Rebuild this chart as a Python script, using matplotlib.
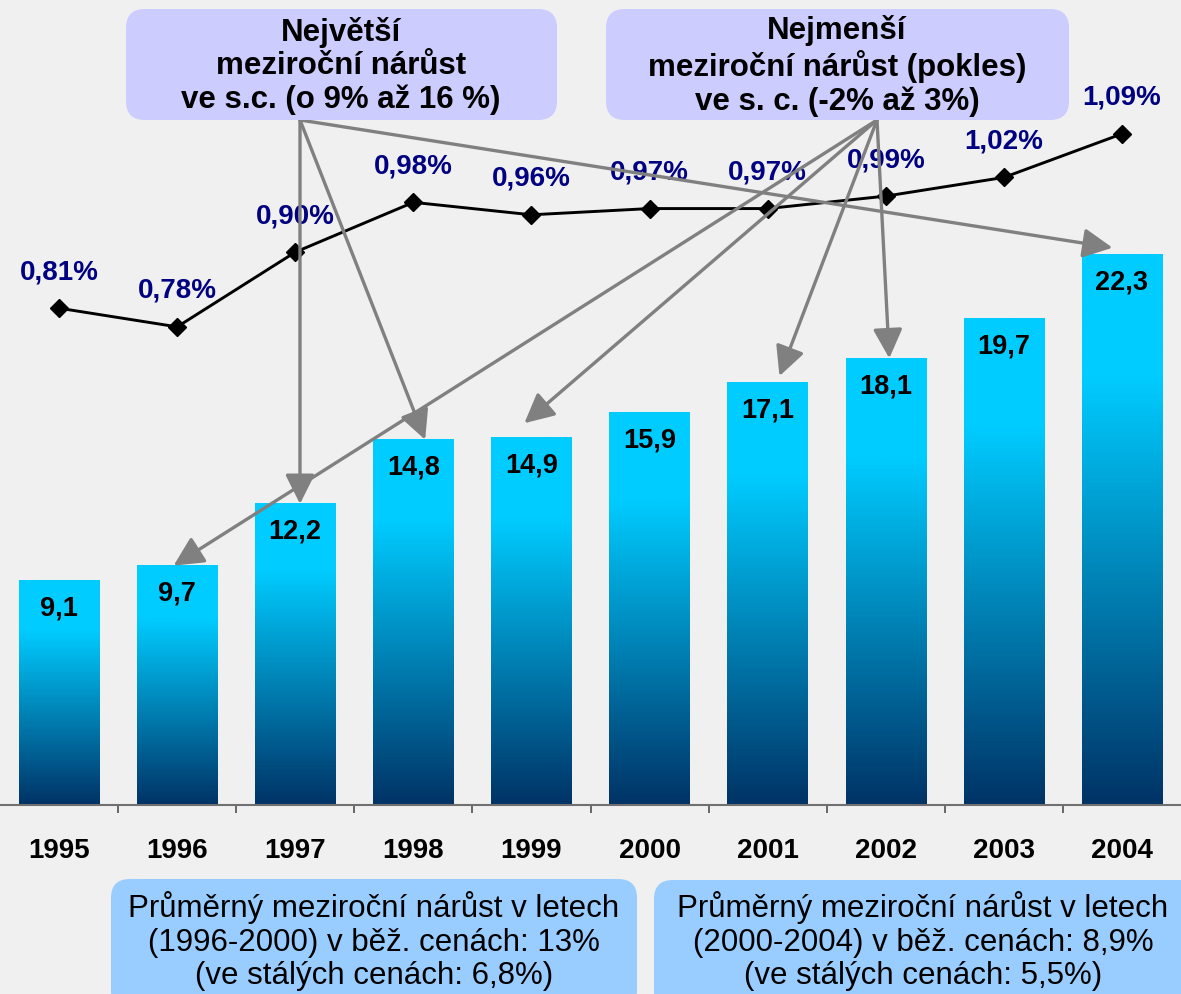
import numpy as np
import matplotlib
matplotlib.use("Agg")
import matplotlib.pyplot as plt
from matplotlib.colors import LinearSegmentedColormap
from matplotlib.patches import FancyBboxPatch

# ---------------- data ----------------
years = ["1995", "1996", "1997", "1998", "1999", "2000", "2001", "2002", "2003", "2004"]
values = [9.1, 9.7, 12.2, 14.8, 14.9, 15.9, 17.1, 18.1, 19.7, 22.3]
shares = [0.81, 0.78, 0.90, 0.98, 0.96, 0.97, 0.97, 0.99, 1.02, 1.09]

box_big_text = "Největší\nmeziroční nárůst\nve s.c. (o 9% až 16 %)"
box_small_text = "Nejmenší\nmeziroční nárůst (pokles)\nve s. c. (-2% až 3%)"
avg1_text = "Průměrný meziroční nárůst v letech\n(1996-2000) v běž. cenách: 13%\n(ve stálých cenách: 6,8%)"
avg2_text = "Průměrný meziroční nárůst v letech\n(2000-2004) v běž. cenách: 8,9%\n(ve stálých cenách: 5,5%)"

big_targets = ["1997", "1998", "2004"]
small_targets = ["1996", "1999", "2001", "2002"]

# ---------------- styling ----------------
W, H = 1181, 994
FONT = "Liberation Sans"
plt.rcParams["font.family"] = [FONT, "DejaVu Sans"]

fig = plt.figure(figsize=(W / 100, H / 100), dpi=100)
fig.patch.set_facecolor("#f0f0f0")

def fx(px):
    return px / W

def fy(py):
    return 1 - py / H

base_px = 805
ax = fig.add_axes([0, fy(base_px), 1, fy(0) - fy(base_px)])
ax.patch.set_visible(False)
px_per_unit = 24.68
ax.set_xlim(-0.5, len(years) - 0.5)
ax.set_ylim(0, base_px / px_per_unit)

x = np.arange(len(years))
bars = ax.bar(x, values, width=0.68, color="none", edgecolor="none", zorder=2)

cmap = LinearSegmentedColormap.from_list(
    "grad", [(0.0, "#003366"), (0.78, "#00ccff"), (1.0, "#00ccff")])
grad = np.linspace(0, 1, 256).reshape(-1, 1)
for b in bars:
    x0, y0 = b.get_x(), b.get_y()
    w, h = b.get_width(), b.get_height()
    ax.imshow(grad, extent=[x0, x0 + w, y0, y0 + h], origin="lower",
              cmap=cmap, aspect="auto", zorder=2, interpolation="bilinear")

for xi, v in zip(x, values):
    ax.annotate(f"{v:.1f}".replace(".", ","), (xi, v), xytext=(0, -20),
                textcoords="offset points", ha="center", va="center",
                fontsize=19.5, fontweight="bold", color="black", zorder=4)

ax.set_xlim(-0.5, len(years) - 0.5)
ax.set_ylim(0, base_px / px_per_unit)

# axis
for s in ["top", "right", "left"]:
    ax.spines[s].set_visible(False)
ax.spines["bottom"].set_color("#707070")
ax.spines["bottom"].set_linewidth(1.5)
ax.set_yticks([])
ax.set_xticks(x)
ax.set_xticklabels(years, fontsize=20, fontweight="bold")
ax.set_xticks(x[:-1] + 0.5, minor=True)
ax.tick_params(axis="x", which="major", length=0, pad=24)
ax.tick_params(axis="x", which="minor", length=6, width=1.2, color="#505050")

# line on secondary axis
ax2 = ax.twinx()
ax2.patch.set_visible(False)
for s in ax2.spines.values():
    s.set_visible(False)
ax2.set_yticks([])
ax2.set_ylim(0.012, 1.305)
ax2.plot(x, shares, color="black", lw=2.1, marker="D", markersize=9.5,
         markerfacecolor="black", markeredgecolor="black", zorder=5)
for xi, v in zip(x, shares):
    ax2.annotate(f"{v:.2f}".replace(".", ",") + "%", (xi, v), xytext=(0, 26),
                 textcoords="offset points", ha="center", va="center",
                 fontsize=20, fontweight="bold", color="#000080", zorder=6)

# arrows (tip offsets in data units, start points at box edges)
tip_offsets = {"1997": (0.04, 0.0), "1998": (0.10, 0.0), "2004": (-0.08, 0.28),
               "1996": (-0.03, 0.0), "1999": (-0.06, 0.57), "2001": (0.10, 0.28),
               "2002": (0.03, 0.0)}
arrow_kw = dict(arrowstyle="-|>,head_length=0.9,head_width=0.45", mutation_scale=20,
                lw=2.4, color="#808080", shrinkA=0, shrinkB=0)

def draw_arrows(targets, start_px):
    for yr in targets:
        i = years.index(yr)
        dx, dy = tip_offsets[yr]
        a = ax2.annotate("", xy=(i + dx, values[i] + dy), xycoords=ax.transData,
                         xytext=(start_px[0], H - start_px[1]), textcoords="figure pixels",
                         arrowprops=arrow_kw, zorder=10)
        a.set_zorder(10)

draw_arrows(big_targets, (300, 120))
draw_arrows(small_targets, (877, 120))

# boxes
def add_box(x0, y0, x1, y1, tx, ty, color, text, fontsize, weight, linespacing):
    p = FancyBboxPatch((fx(x0), fy(y1)), fx(x1) - fx(x0), fy(y0) - fy(y1),
                       boxstyle="round,pad=0,rounding_size=0.016",
                       transform=fig.transFigure, facecolor=color,
                       edgecolor="none", zorder=20, mutation_aspect=W / H)
    fig.add_artist(p)
    fig.text(fx(tx), fy(ty), text, ha="center", va="center",
             fontsize=fontsize, fontweight=weight, color="black",
             linespacing=linespacing, zorder=21)

add_box(126, 9, 557, 120, 341, 66, "#ccccff", box_big_text, 22.5, "bold", 1.15)
add_box(606, 9, 1069, 120, 837, 66, "#ccccff", box_small_text, 22.5, "bold", 1.15)
add_box(111, 879, 637, 1010, 374, 941, "#99ccff", avg1_text, 22.5, "normal", 1.15)
add_box(654, 880, 1200, 1010, 923, 941, "#99ccff", avg2_text, 22.5, "normal", 1.15)

fig.savefig("out.png", dpi=100, facecolor=fig.get_facecolor())
